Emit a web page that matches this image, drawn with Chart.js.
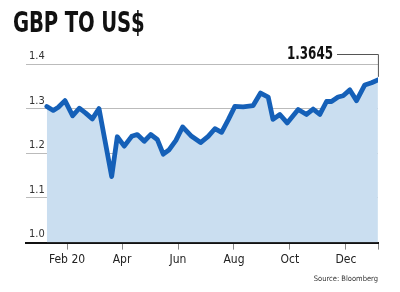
<!DOCTYPE html>
<html>
<head>
<meta charset="utf-8">
<script src="https://cdn.jsdelivr.net/npm/chart.js@4"></script>
<style>
  html, body { margin: 0; padding: 0; background: #fff; }
  #wrap { position: relative; width: 400px; height: 292px; }
  #title {
    position: absolute; left: 13px; top: 6px;
    font: bold 28px "Liberation Sans Narrow", "DejaVu Sans Condensed", sans-serif;
    color: #111; transform: scaleX(0.78); transform-origin: left top;
    white-space: nowrap; letter-spacing: -0.2px;
  }
</style>
</head>
<body>
<div id="wrap">
  <div id="title">GBP TO US$</div>
  <canvas id="c" width="400" height="292"></canvas>
</div>
<script>
// day of 2020 (1 = Jan 1) and GBP/USD rate
const days = [9, 16, 21.5, 28.8, 37.2, 44.4, 51.4, 58.6, 65.9, 72.7, 79.7, 85.8, 93.4, 101.5,
  107.6, 115.2, 122.2, 129.4, 135.9, 142.4, 149.7, 157, 166.8, 176.6, 184.9, 192.2, 199.5,
  206.7, 214, 223, 233.9, 242, 250.3, 255.5, 263, 271, 283, 292.1, 299.3, 306.6, 313.9,
  319.3, 326.5, 332, 339.3, 346.6, 355.6, 363, 369.9];
const rates = [1.305, 1.296, 1.303, 1.318, 1.284, 1.301, 1.290, 1.277, 1.300, 1.225, 1.148, 1.237,
  1.216, 1.238, 1.242, 1.227, 1.242, 1.231, 1.198, 1.208, 1.229, 1.259, 1.238, 1.224, 1.238,
  1.255, 1.247, 1.275, 1.305, 1.304, 1.307, 1.335, 1.326, 1.276, 1.287, 1.268, 1.298, 1.287,
  1.299, 1.287, 1.316, 1.316, 1.326, 1.329, 1.342, 1.318, 1.353, 1.358, 1.3645];

const monthTicks = [31, 91, 152, 213, 274, 335, 370];
const monthLabels = ["Feb 20", "Apr", "Jun", "Aug", "Oct", "Dec", ""];
const yTicks = [1.0, 1.1, 1.2, 1.3, 1.4];
const lastLabel = "1.3645";

const narrow = '"Liberation Sans Narrow", "DejaVu Sans Condensed", sans-serif';

// leader line + value label for the last point
const lastValue = {
  id: "lastValue",
  afterDatasetsDraw(chart) {
    const { ctx, scales } = chart;
    const px = scales.x.getPixelForValue(days[days.length - 1]);
    const py = scales.y.getPixelForValue(rates[rates.length - 1]);
    const ly = 54;
    ctx.save();
    ctx.strokeStyle = "#555";
    ctx.lineWidth = 1;
    ctx.beginPath();
    ctx.moveTo(337, ly + 0.5);
    ctx.lineTo(px + 0.5, ly + 0.5);
    ctx.lineTo(px + 0.5, py - 3);
    ctx.stroke();
    ctx.fillStyle = "#111";
    ctx.font = "bold 17px " + narrow;
    ctx.textAlign = "right";
    ctx.textBaseline = "alphabetic";
    ctx.translate(333, 59);
    ctx.scale(0.78, 1);
    ctx.fillText(lastLabel, 0, 0);
    ctx.restore();
  }
};

new Chart(document.getElementById("c"), {
  type: "line",
  data: {
    datasets: [{
      data: days.map((d, i) => ({ x: d, y: rates[i] })),
      borderColor: "#1560b8",
      borderWidth: 4.8,
      backgroundColor: "#cadef0",
      fill: "start",
      pointRadius: 0,
      tension: 0,
      borderJoinStyle: "round",
      borderCapStyle: "round"
    }]
  },
  options: {
    responsive: false,
    devicePixelRatio: 1,
    animation: false,
    layout: { padding: { left: 20, right: 22, top: 64, bottom: 8 } },
    plugins: {
      legend: { display: false },
      tooltip: { enabled: false },
      subtitle: {
        display: true,
        text: "Source: Bloomberg",
        position: "bottom",
        align: "end",
        color: "#333",
        font: { family: narrow, size: 7.5 },
        padding: { top: 5, bottom: 0 }
      }
    },
    scales: {
      x: {
        type: "linear",
        min: -13.7,
        max: 370,
        afterBuildTicks: s => { s.ticks = monthTicks.map(v => ({ value: v })); },
        ticks: {
          callback: (v) => monthLabels[monthTicks.indexOf(v)],
          color: "#222",
          font: { family: narrow, size: 12 },
          padding: 3,
          maxRotation: 0,
          autoSkip: false
        },
        grid: { drawOnChartArea: false, drawTicks: true, tickLength: 7, color: "#888" },
        border: { display: true, color: "#111", width: 2 }
      },
      y: {
        min: 1.0,
        max: 1.4,
        afterBuildTicks: s => { s.ticks = yTicks.map(v => ({ value: v })); },
        ticks: {
          mirror: true,
          padding: 3,
          labelOffset: -8,
          color: "#333",
          font: { family: narrow, size: 11 },
          callback: v => v.toFixed(1)
        },
        grid: { color: "#bbb", drawTicks: false, lineWidth: 1 },
        border: { display: false }
      }
    }
  },
  plugins: [lastValue]
});
</script>
</body>
</html>
